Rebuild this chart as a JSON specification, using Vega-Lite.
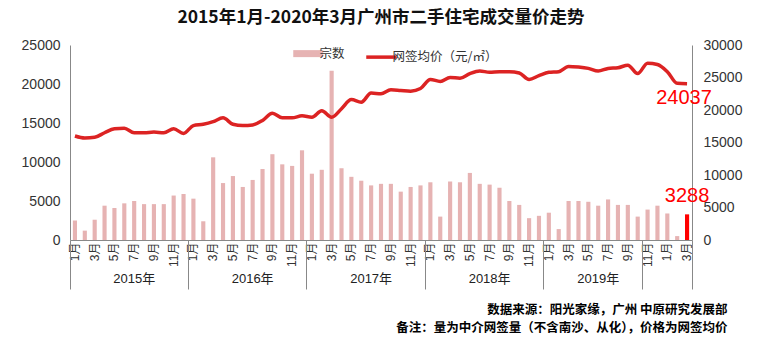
{
  "$schema": "https://vega.github.io/schema/vega-lite/v6.json",
  "width": 622,
  "height": 195,
  "autosize": {"type": "none"},
  "padding": {"left": 70, "top": 45, "right": 68, "bottom": 120},
  "background": "white",
  "title": {
    "text": "2015年1月-2020年3月广州市二手住宅成交量价走势",
    "font": "Noto Sans CJK SC",
    "fontSize": 17.5,
    "fontWeight": "bold",
    "color": "#111111",
    "anchor": "middle",
    "offset": 12
  },
  "config": {
    "view": {"stroke": null},
    "axis": {"labelFont": "Liberation Sans, Noto Sans CJK SC", "labelColor": "#333333", "domainColor": "#888888", "tickColor": "#888888"}
  },
  "data": {
    "values": [
      {"月份": "2015-01", "宗数": 2500, "网签均价": 16000},
      {"月份": "2015-02", "宗数": 1200, "网签均价": 15700},
      {"月份": "2015-03", "宗数": 2600, "网签均价": 15800},
      {"月份": "2015-04", "宗数": 4400, "网签均价": 16500},
      {"月份": "2015-05", "宗数": 4100, "网签均价": 17100},
      {"月份": "2015-06", "宗数": 4700, "网签均价": 17200},
      {"月份": "2015-07", "宗数": 5000, "网签均价": 16500},
      {"月份": "2015-08", "宗数": 4600, "网签均价": 16500},
      {"月份": "2015-09", "宗数": 4600, "网签均价": 16600},
      {"月份": "2015-10", "宗数": 4600, "网签均价": 16500},
      {"月份": "2015-11", "宗数": 5700, "网签均价": 17100},
      {"月份": "2015-12", "宗数": 5900, "网签均价": 16400},
      {"月份": "2016-01", "宗数": 5300, "网签均价": 17600},
      {"月份": "2016-02", "宗数": 2400, "网签均价": 17800},
      {"月份": "2016-03", "宗数": 10600, "网签均价": 18200},
      {"月份": "2016-04", "宗数": 7300, "网签均价": 18800},
      {"月份": "2016-05", "宗数": 8200, "网签均价": 17800},
      {"月份": "2016-06", "宗数": 6800, "网签均价": 17600},
      {"月份": "2016-07", "宗数": 7700, "网签均价": 17700},
      {"月份": "2016-08", "宗数": 9100, "网签均价": 18400},
      {"月份": "2016-09", "宗数": 11000, "网签均价": 19500},
      {"月份": "2016-10", "宗数": 9700, "网签均价": 18800},
      {"月份": "2016-11", "宗数": 9500, "网签均价": 18800},
      {"月份": "2016-12", "宗数": 11500, "网签均价": 19100},
      {"月份": "2017-01", "宗数": 8500, "网签均价": 18900},
      {"月份": "2017-02", "宗数": 9000, "网签均价": 19900},
      {"月份": "2017-03", "宗数": 21700, "网签均价": 18900},
      {"月份": "2017-04", "宗数": 9200, "网签均价": 20200},
      {"月份": "2017-05", "宗数": 8100, "网签均价": 21600},
      {"月份": "2017-06", "宗数": 7600, "网签均价": 21200},
      {"月份": "2017-07", "宗数": 7000, "网签均价": 22600},
      {"月份": "2017-08", "宗数": 7200, "网签均价": 22500},
      {"月份": "2017-09", "宗数": 7200, "网签均价": 23100},
      {"月份": "2017-10", "宗数": 6200, "网签均价": 23000},
      {"月份": "2017-11", "宗数": 6800, "网签均价": 22900},
      {"月份": "2017-12", "宗数": 7000, "网签均价": 23300},
      {"月份": "2018-01", "宗数": 7400, "网签均价": 24700},
      {"月份": "2018-02", "宗数": 3000, "网签均价": 24400},
      {"月份": "2018-03", "宗数": 7500, "网签均价": 25000},
      {"月份": "2018-04", "宗数": 7400, "网签均价": 24900},
      {"月份": "2018-05", "宗数": 8600, "网签均价": 25600},
      {"月份": "2018-06", "宗数": 7200, "网签均价": 26000},
      {"月份": "2018-07", "宗数": 7100, "网签均价": 25800},
      {"月份": "2018-08", "宗数": 6700, "网签均价": 25900},
      {"月份": "2018-09", "宗数": 5000, "网签均价": 25900},
      {"月份": "2018-10", "宗数": 4500, "网签均价": 25700},
      {"月份": "2018-11", "宗数": 2800, "网签均价": 24700},
      {"月份": "2018-12", "宗数": 3100, "网签均价": 25300},
      {"月份": "2019-01", "宗数": 3500, "网签均价": 25800},
      {"月份": "2019-02", "宗数": 1400, "网签均价": 25900},
      {"月份": "2019-03", "宗数": 5000, "网签均价": 26700},
      {"月份": "2019-04", "宗数": 5000, "网签均价": 26600},
      {"月份": "2019-05", "宗数": 4900, "网签均价": 26400},
      {"月份": "2019-06", "宗数": 4400, "网签均价": 26000},
      {"月份": "2019-07", "宗数": 5200, "网签均价": 26400},
      {"月份": "2019-08", "宗数": 4500, "网签均价": 26500},
      {"月份": "2019-09", "宗数": 4500, "网签均价": 26900},
      {"月份": "2019-10", "宗数": 3000, "网签均价": 25600},
      {"月份": "2019-11", "宗数": 3900, "网签均价": 27200},
      {"月份": "2019-12", "宗数": 4400, "网签均价": 27000},
      {"月份": "2020-01", "宗数": 3400, "网签均价": 25900},
      {"月份": "2020-02", "宗数": 500, "网签均价": 24100},
      {"月份": "2020-03", "宗数": 3288, "网签均价": 24037}
    ]
  },
  "layer": [
    {
      "mark": {"type": "bar", "width": {"band": 0.42}},
      "encoding": {
        "x": {
          "field": "月份", "type": "ordinal",
          "scale": {"paddingInner": 0, "paddingOuter": 0},
          "axis": {
            "orient": "bottom",
            "title": ["数据来源：阳光家缘，广州 中原研究发展部", "备注：量为中介网签量（不含南沙、从化），价格为网签均价"],
            "titleX": 657, "titleY": 63, "titleAlign": "right", "titleBaseline": "top",
            "titleFont": "Noto Sans CJK SC", "titleFontSize": 12.5, "titleFontWeight": "bold",
            "titleColor": "#000000", "titleLineHeight": 18,
            "labelAngle": 270, "labelAlign": "right", "labelBaseline": "middle",
            "labelExpr": "toNumber(slice(datum.value,5)) % 2 == 1 ? toNumber(slice(datum.value,5)) + '月' : ''",
            "labelFontSize": 12, "labelPadding": 2, "ticks": false, "tickSize": 0
          }
        },
        "y": {
          "field": "宗数", "type": "quantitative",
          "scale": {"domain": [0, 25000]},
          "axis": {"orient": "left", "values": [0, 5000, 10000, 15000, 20000, 25000], "format": "d", "title": null, "grid": false, "ticks": false, "tickSize": 0, "labelPadding": 10, "labelFontSize": 14}
        },
        "color": {
          "condition": {"test": "datum['月份'] == '2020-03'", "value": "#ff0000"},
          "datum": "宗数",
          "scale": {"domain": ["宗数", "网签均价（元/㎡）"], "range": ["#e6b3b3", "#dc2323"]},
          "legend": {
            "orient": "none", "legendX": 232, "legendY": 2, "direction": "horizontal", "title": null,
            "symbolType": "stroke", "symbolSize": 900, "symbolStrokeWidth": 3.5,
            "labelFont": "Noto Sans CJK SC", "labelFontSize": 12.5, "labelColor": "#333333",
            "columnPadding": 14, "labelOffset": 5,
            "encode": {"symbols": {"update": {
              "stroke": {"signal": "datum.value == '宗数' ? '#e6b3b3' : '#dc2323'"},
              "strokeWidth": {"signal": "datum.value == '宗数' ? 7 : 3.5"},
              "fill": {"value": "transparent"}
            }}}
          }
        }
      }
    },
    {
      "mark": {"type": "line", "interpolate": "monotone", "strokeWidth": 3.5},
      "encoding": {
        "x": {
          "field": "月份", "type": "ordinal",
          "scale": {"paddingInner": 0, "paddingOuter": 0},
          "axis": {
            "orient": "bottom",
            "values": ["2015-07", "2016-07", "2017-07", "2018-07", "2019-06"],
            "bandPosition": 0,
            "labelExpr": "slice(datum.value,0,4) + '年'",
            "domain": false, "ticks": false, "tickSize": 0,
            "labelPadding": 32, "labelFontSize": 13, "labelAngle": 0, "labelAlign": "center", "labelColor": "#222222",
            "title": null
          }
        },
        "y": {
          "field": "网签均价", "type": "quantitative",
          "scale": {"domain": [0, 30000]},
          "axis": {"orient": "right", "values": [0, 5000, 10000, 15000, 20000, 25000, 30000], "format": "d", "title": null, "grid": false, "ticks": false, "tickSize": 0, "labelPadding": 11, "labelFontSize": 14}
        },
        "color": {"datum": "网签均价（元/㎡）"}
      }
    },
    {
      "transform": [{"filter": "datum['月份'] == '2020-03'"}],
      "mark": {"type": "text", "font": "Liberation Sans", "fontSize": 20, "color": "#ff0000", "align": "center", "baseline": "top", "dy": 4, "dx": -3},
      "encoding": {
        "x": {
          "field": "月份", "type": "ordinal",
          "scale": {"paddingInner": 0, "paddingOuter": 0},
          "axis": {
            "orient": "bottom",
            "values": ["2015-01", "2016-01", "2017-01", "2018-01", "2019-01", "2019-11"],
            "bandPosition": 0, "labels": false, "domain": false, "ticks": true, "tickSize": 49, "tickColor": "#888888", "title": null
          }
        },
        "y": {"field": "网签均价", "type": "quantitative", "scale": {"domain": [0, 30000]}, "axis": null},
        "text": {"field": "网签均价", "type": "quantitative", "format": "d"}
      }
    },
    {
      "transform": [{"filter": "datum['月份'] == '2020-03'"}],
      "mark": {"type": "text", "font": "Liberation Sans", "fontSize": 20, "color": "#ff0000", "align": "center", "baseline": "alphabetic", "dy": -12},
      "encoding": {
        "x": {
          "field": "月份", "type": "ordinal",
          "scale": {"paddingInner": 0, "paddingOuter": 0},
          "axis": {
            "orient": "bottom",
            "values": ["2020-03"],
            "bandPosition": 1, "labels": false, "domain": false, "ticks": true, "tickSize": 49, "tickColor": "#888888", "title": null
          }
        },
        "y": {"field": "宗数", "type": "quantitative", "scale": {"domain": [0, 25000]}, "axis": null},
        "text": {"field": "宗数", "type": "quantitative", "format": "d"}
      }
    }
  ],
  "resolve": {"scale": {"y": "independent"}, "axis": {"x": "independent", "y": "independent"}}
}
